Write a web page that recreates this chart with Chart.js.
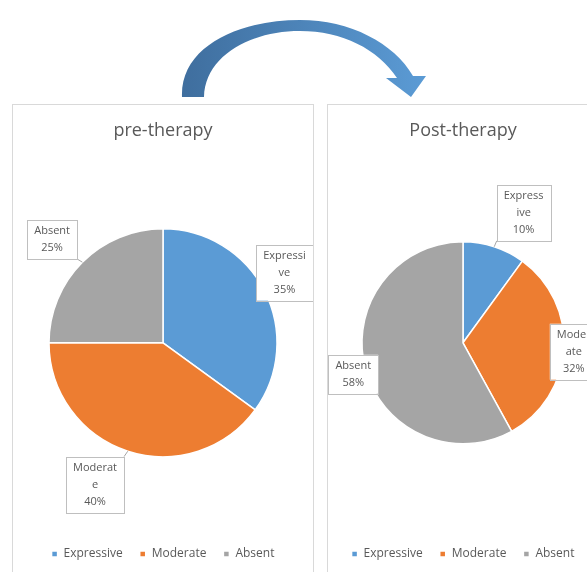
<!DOCTYPE html>
<html lang="en">
<head>
<meta charset="UTF-8">
<title>Pre / Post therapy</title>
<script src="https://cdn.jsdelivr.net/npm/chart.js"></script>
<style>
  body { margin: 0; background: #fff; width: 587px; height: 572px; overflow: hidden; position: relative; }
  .panel { position: absolute; top: 104px; height: 480px; border: 1px solid #D9D9D9; background: #fff; }
  #p1 { left: 12px; width: 300px; }
  #p2 { left: 327px; width: 270px; }
  #arrow { position: absolute; left: 0; top: 0; }
</style>
</head>
<body>
<svg id="arrow" width="587" height="110">
  <defs>
    <linearGradient id="g" x1="0" x2="1" y1="0" y2="0">
      <stop offset="0" stop-color="#3F6E9E"/>
      <stop offset="1" stop-color="#5B9BD5"/>
    </linearGradient>
  </defs>
  <path fill="url(#g)" d="M182,97 C180,46 240,20 300,20 C350,20 394,43 413,76 L426,76 L411,97 L386,78 L397,78 C378,49 342,31 300,31 C250,31 205,56 204,97 Z"/>
</svg>
<div class="panel" id="p1"><canvas id="pre" width="300" height="467"></canvas></div>
<div class="panel" id="p2"><canvas id="post" width="270" height="467"></canvas></div>
<script>
const categories = ['Expressive', 'Moderate', 'Absent'];
const preValues = [35, 40, 25];
const postValues = [10, 32, 58];
const colors = ['#5B9BD5', '#ED7D31', '#A5A5A5'];

// wrapped label text as in the picture (percent is added from the data)
const preLines = [['Expressi', 've'], ['Moderat', 'e'], ['Absent']];
const postLines = [['Express', 'ive'], ['Moder', 'ate'], ['Absent']];

// callout placement: turn from slice mid-angle (deg), distance in radii
const prePlace = [{ turn: -3, dist: 1.23 }, { turn: 7.6, dist: 1.38 }, { turn: -2, dist: 1.33 }];
const postPlace = [{ turn: 7, dist: 1.42 }, { turn: 1, dist: 1.10 }, { turn: -1.6, dist: 1.13 }];

function callouts(lines, place) {
  return {
    id: 'callouts',
    afterDraw(chart) {
      const ctx = chart.ctx;
      const meta = chart.getDatasetMeta(0);
      const values = chart.data.datasets[0].data;
      const total = values.reduce((a, b) => a + b, 0);
      ctx.save();
      ctx.font = '11px "Open Sans"';
      ctx.textAlign = 'center';
      ctx.textBaseline = 'middle';
      meta.data.forEach((arc, i) => {
        const p = arc.getProps(['x', 'y', 'startAngle', 'endAngle', 'outerRadius'], true);
        const mid = (p.startAngle + p.endAngle) / 2;
        const a = mid + place[i].turn * Math.PI / 180;
        const d = p.outerRadius * place[i].dist;
        const cx = p.x + Math.cos(a) * d;
        const cy = p.y + Math.sin(a) * d;
        const text = lines[i].concat([Math.round(values[i] / total * 100) + '%']);
        const w = Math.max(...text.map(t => ctx.measureText(t).width)) + 14;
        const h = text.length * 17 + 5;
        const bx = cx - w / 2, by = cy - h / 2;
        // leader line to the slice edge
        const ex = p.x + Math.cos(mid) * p.outerRadius;
        const ey = p.y + Math.sin(mid) * p.outerRadius;
        if (ex < bx || ex > bx + w || ey < by || ey > by + h) {
          const nx = Math.min(Math.max(ex, bx), bx + w);
          const ny = Math.min(Math.max(ey, by), by + h);
          ctx.strokeStyle = '#A6A6A6';
          ctx.lineWidth = 1;
          ctx.beginPath();
          ctx.moveTo(ex, ey);
          ctx.lineTo(nx, ny);
          ctx.stroke();
        }
        ctx.fillStyle = '#fff';
        ctx.fillRect(bx, by, w, h);
        ctx.strokeStyle = '#BFBFBF';
        ctx.lineWidth = 1;
        ctx.strokeRect(Math.round(bx) + 0.5, Math.round(by) + 0.5, Math.round(w), Math.round(h));
        ctx.fillStyle = '#595959';
        text.forEach((t, k) => ctx.fillText(t, cx, by + 11 + k * 17));
      });
      ctx.restore();
    }
  };
}

function makePie(id, title, values, lines, place, radius) {
  return new Chart(document.getElementById(id), {
    type: 'pie',
    data: {
      labels: categories,
      datasets: [{
        data: values,
        backgroundColor: colors,
        borderColor: '#fff',
        borderWidth: 1.5
      }]
    },
    options: {
      responsive: false,
      animation: false,
      radius: radius,
      layout: { padding: { bottom: 2 } },
      plugins: {
        title: {
          display: true,
          text: title,
          color: '#595959',
          font: { family: 'Open Sans', size: 18, weight: 'normal' },
          padding: { top: 15, bottom: 13 }
        },
        legend: {
          position: 'bottom',
          labels: {
            boxWidth: 6,
            boxHeight: 6,
            color: '#595959',
            font: { family: 'Open Sans', size: 12 },
            padding: 17
          }
        },
        tooltip: { enabled: false }
      }
    },
    plugins: [callouts(lines, place)]
  });
}

makePie('pre', 'pre-therapy', preValues, preLines, prePlace, 114);
makePie('post', 'Post-therapy', postValues, postLines, postPlace, 101);
</script>
</body>
</html>
